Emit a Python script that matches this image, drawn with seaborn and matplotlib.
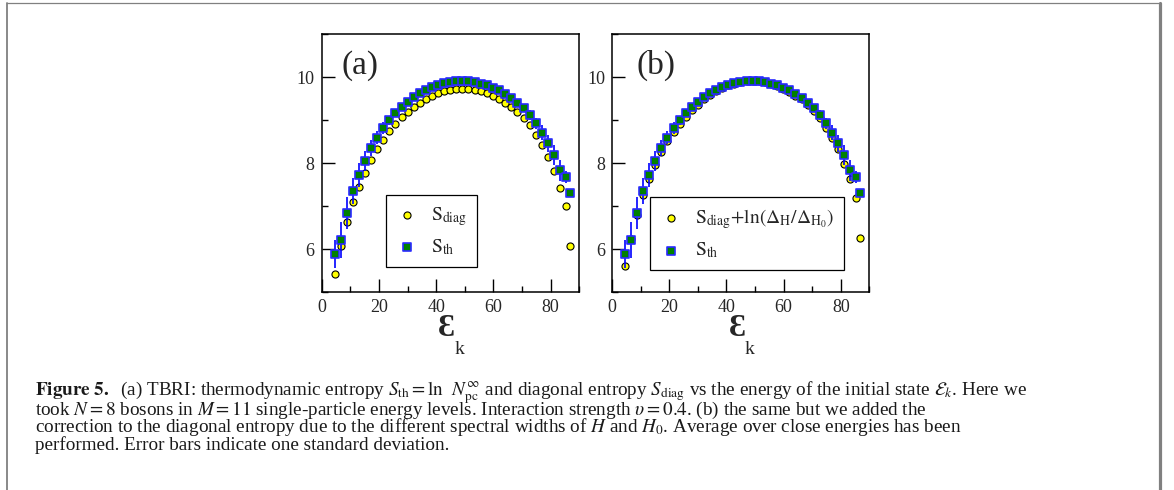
import matplotlib
matplotlib.use("Agg")
import matplotlib.pyplot as plt
import seaborn as sns
import pandas as pd
from matplotlib.lines import Line2D
from matplotlib.ticker import MultipleLocator

# energy of the initial state
energy = [4.6, 6.6, 8.8, 10.9, 13.0, 15.1, 17.2, 19.3, 21.5, 23.6,
          25.7, 27.9, 30.0, 32.1, 34.3, 36.4, 38.5, 40.7, 42.8, 44.9,
          47.1, 49.2, 51.3, 53.5, 55.6, 57.7, 59.9, 62.0, 64.1, 66.3,
          68.4, 70.6, 72.7, 74.8, 77.0, 79.1, 81.2, 83.3, 85.3, 86.7]

# thermodynamic entropy and its std
s_th = [5.89, 6.22, 6.83, 7.35, 7.72, 8.05, 8.35, 8.59, 8.81, 8.99,
        9.155, 9.295, 9.41, 9.53, 9.62, 9.70, 9.77, 9.82, 9.86, 9.89,
        9.91, 9.915, 9.91, 9.89, 9.85, 9.81, 9.75, 9.69, 9.60, 9.51,
        9.40, 9.27, 9.12, 8.92, 8.71, 8.46, 8.19, 7.83, 7.67, 7.31]
s_th_err = [0.32, 0.42, 0.37, 0.30, 0.28, 0.24, 0.18, 0.155, 0.135, 0.10,
            0.09, 0.08, 0.07, 0.06, 0.05, 0.045, 0.04, 0.035, 0.03, 0.03,
            0.03, 0.03, 0.03, 0.03, 0.035, 0.04, 0.045, 0.05, 0.055, 0.06,
            0.07, 0.08, 0.11, 0.135, 0.17, 0.20, 0.24, 0.245, 0.14, 0.03]

# diagonal entropy (a) and corrected diagonal entropy (b)
s_diag = [5.43, 6.08, 6.64, 7.09, 7.45, 7.78, 8.08, 8.33, 8.54, 8.74,
          8.91, 9.06, 9.19, 9.30, 9.40, 9.49, 9.56, 9.62, 9.67, 9.70,
          9.72, 9.73, 9.72, 9.705, 9.67, 9.62, 9.56, 9.49, 9.40, 9.30,
          9.18, 9.05, 8.88, 8.66, 8.41, 8.13, 7.81, 7.43, 7.01, 6.06]
s_diag_corr = [5.60, 6.24, 6.80, 7.26, 7.62, 7.96, 8.26, 8.51, 8.72, 8.91,
               9.08, 9.23, 9.36, 9.48, 9.59, 9.68, 9.75, 9.81, 9.85, 9.88,
               9.90, 9.905, 9.90, 9.88, 9.84, 9.79, 9.73, 9.66, 9.57, 9.48,
               9.35, 9.21, 9.04, 8.82, 8.59, 8.33, 7.98, 7.62, 7.18, 6.25]

caption = [
    r"$\mathbf{Figure\ 5.}$  (a) TBRI: thermodynamic entropy $S_{\mathrm{th}} = \mathrm{ln}\ \ N_{\mathrm{pc}}^{\infty}$"
    r" and diagonal entropy $S_{\mathrm{diag}}$ vs the energy of the initial state $\mathcal{E}_k$. Here we",
    r"took $N = 8$ bosons in $M = 11$ single-particle energy levels. Interaction strength $\upsilon = 0.4$."
    r" (b) the same but we added the",
    r"correction to the diagonal entropy due to the different spectral widths of $H$ and $H_0$."
    r" Average over close energies has been",
    "performed. Error bars indicate one standard deviation.",
]

sns.set_theme(style="white")
plt.rcParams["font.family"] = ["Liberation Serif", "DejaVu Serif"]
plt.rcParams["mathtext.fontset"] = "stix"

df = pd.DataFrame({"e": energy, "th": s_th, "err": s_th_err,
                   "diag": s_diag, "corr": s_diag_corr})

fig = plt.figure(figsize=(11.74, 4.9), dpi=100)
ax_a = fig.add_axes([0.274, 0.404, 0.2194, 0.5265])
ax_b = fig.add_axes([0.5213, 0.404, 0.2193, 0.5265])

panels = [
    (ax_a, "diag", r"$\mathrm{S_{diag}}$", "(a)", 0.078, (0.25, 0.097)),
    (ax_b, "corr", r"$\mathrm{S_{diag}{+}ln(\Delta_H/\Delta_{H_0})}$", "(b)", 0.096, (0.148, 0.085)),
]

for ax, col, lab, tag, tag_x, leg_pos in panels:
    sns.scatterplot(data=df, x="e", y=col, ax=ax, marker="o", s=26,
                    color="#ffff00", edgecolor="black", linewidth=0.8,
                    label=lab, zorder=3)
    ax.errorbar(df["e"], df["th"], yerr=df["err"], fmt="none",
                ecolor="#0000ff", elinewidth=1.2, capsize=0, zorder=4)
    sns.scatterplot(data=df, x="e", y="th", ax=ax, marker="s", s=26,
                    color="#008000", edgecolor="#2a2aff", linewidth=1.2,
                    label=r"$\mathrm{S_{th}}$", zorder=5)

    ax.set_xlim(0, 90)
    ax.set_ylim(5, 11)
    ax.xaxis.set_major_locator(MultipleLocator(20))
    ax.xaxis.set_minor_locator(MultipleLocator(10))
    ax.yaxis.set_major_locator(MultipleLocator(2))
    ax.yaxis.set_minor_locator(MultipleLocator(1))
    ax.tick_params(which="both", direction="in", top=False, right=False,
                   bottom=True, left=True, color="black", width=1.0)
    ax.tick_params(which="major", length=9.5, labelsize=13, pad=5)
    ax.tick_params(which="minor", length=4.5)
    for sp in ax.spines.values():
        sp.set_color("black")
        sp.set_linewidth(1.1)
    ax.set_xlabel("")
    ax.set_ylabel("")

    ax.text(tag_x, 0.848, tag, transform=ax.transAxes, fontsize=24,
            va="baseline", ha="left")
    ax.text(0.485, -0.143, "Ɛ", transform=ax.transAxes, fontsize=23,
            fontweight="bold", ha="center", va="center")
    ax.text(0.535, -0.221, "k", transform=ax.transAxes, fontsize=14,
            ha="center", va="center")

    leg = ax.legend(loc="lower left", bbox_to_anchor=leg_pos, borderaxespad=0,
                    fontsize=14, frameon=True, fancybox=False, framealpha=1,
                    edgecolor="black", handletextpad=0.6, labelspacing=0.5,
                    borderpad=0.5, handlelength=1.2)
    leg.get_frame().set_linewidth(0.9)

y0 = 1 - 392.7 / 490
for i, line in enumerate(caption):
    fig.text(35 / 1174, y0 - i * 17.4 / 490, line, fontsize=13.8,
             ha="left", va="center", color="#1a1a1a")

# page frame around the figure
fig.add_artist(Line2D([6.5 / 1174, 6.5 / 1174], [0, 1 - 3.3 / 490],
                      transform=fig.transFigure, color="#808080", lw=1.3))
fig.add_artist(Line2D([6.5 / 1174, 1160.3 / 1174], [1 - 3.3 / 490, 1 - 3.3 / 490],
                      transform=fig.transFigure, color="#808080", lw=0.9))
fig.add_artist(Line2D([1160.3 / 1174, 1160.3 / 1174], [0, 1 - 3.3 / 490],
                      transform=fig.transFigure, color="#808080", lw=2.3))

fig.savefig("out.png", dpi=100)
